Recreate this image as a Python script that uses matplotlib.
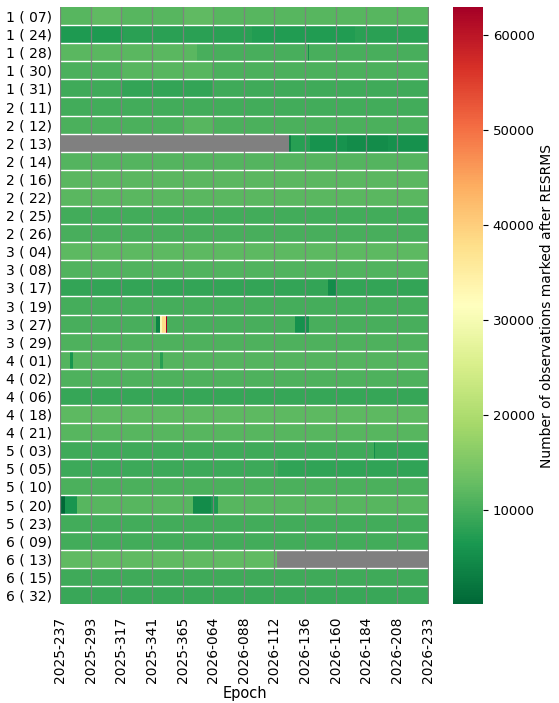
import numpy as np
import matplotlib
matplotlib.use("Agg")
import matplotlib.pyplot as plt

# satellites (rows) and epochs (columns)
row_labels = ["1 ( 07)", "1 ( 24)", "1 ( 28)", "1 ( 30)", "1 ( 31)", "2 ( 11)", "2 ( 12)",
              "2 ( 13)", "2 ( 14)", "2 ( 16)", "2 ( 22)", "2 ( 25)", "2 ( 26)", "3 ( 04)",
              "3 ( 08)", "3 ( 17)", "3 ( 19)", "3 ( 27)", "3 ( 29)", "4 ( 01)", "4 ( 02)",
              "4 ( 06)", "4 ( 18)", "4 ( 21)", "5 ( 03)", "5 ( 05)", "5 ( 10)", "5 ( 20)",
              "5 ( 23)", "6 ( 09)", "6 ( 13)", "6 ( 15)", "6 ( 32)"]

epoch_ticks = ["2025-237", "2025-293", "2025-317", "2025-341", "2025-365", "2026-064",
               "2026-088", "2026-112", "2026-136", "2026-160", "2026-184", "2026-208",
               "2026-233"]
n_epochs = 289
tick_step = 24

# typical count per satellite
row_base = [11500, 7800, 11000, 10500, 9500, 9800, 10500,
            6500, 11200, 11800, 11800, 9800, 10300, 12000,
            11000, 8600, 10000, 10200, 10800, 11200, 10800,
            8800, 12000, 11500, 9500, 9200, 10500, 11500,
            9800, 9800, 12200, 9500, 9000]

# (row, first epoch index, last epoch index, value) ; nan = no data
segments = [
    ("1 ( 07)", 24, 47, 12300),
    ("1 ( 07)", 96, 119, 12200),
    ("1 ( 24)", 0, 48, 6800),
    ("1 ( 24)", 150, 230, 7000),
    ("1 ( 28)", 0, 106, 11800),
    ("1 ( 28)", 107, 288, 10300),
    ("1 ( 28)", 194, 194, 5000),
    ("1 ( 30)", 48, 118, 11600),
    ("1 ( 31)", 48, 118, 8600),
    ("2 ( 12)", 96, 119, 11500),
    ("2 ( 13)", 0, 178, np.nan),
    ("2 ( 13)", 179, 180, 3500),
    ("2 ( 13)", 181, 195, 7500),
    ("2 ( 13)", 196, 224, 5800),
    ("2 ( 13)", 225, 256, 4800),
    ("2 ( 13)", 257, 288, 5600),
    ("3 ( 17)", 210, 216, 5000),
    ("3 ( 19)", 288, 288, np.nan),
    ("3 ( 27)", 75, 77, 4000),
    ("3 ( 27)", 78, 79, 30500),
    ("3 ( 27)", 80, 82, 38000),
    ("3 ( 27)", 83, 83, 62900),
    ("3 ( 27)", 184, 194, 5500),
    ("4 ( 01)", 8, 9, 6000),
    ("4 ( 01)", 78, 80, 7500),
    ("5 ( 03)", 246, 246, 5000),
    ("5 ( 03)", 247, 288, 8600),
    ("5 ( 05)", 171, 288, 8300),
    ("5 ( 20)", 0, 3, 100),
    ("5 ( 20)", 4, 12, 6000),
    ("5 ( 20)", 104, 117, 4800),
    ("5 ( 20)", 118, 123, 6500),
    ("6 ( 13)", 170, 288, np.nan),
]

data = np.array([[b] * n_epochs for b in row_base], dtype=float)
for name, c0, c1, val in segments:
    data[row_labels.index(name), c0:c1 + 1] = val

fig = plt.figure(figsize=(5.59, 7.03), dpi=100)
ax = fig.add_axes([0.1073, 0.1408, 0.6601, 0.8492])
cax = fig.add_axes([0.8104, 0.1408, 0.0537, 0.8492])

ax.set_facecolor("#808080")
mesh = ax.pcolormesh(np.arange(n_epochs + 1), np.arange(len(row_labels) + 1),
                     np.ma.masked_invalid(data), cmap="RdYlGn_r",
                     vmin=np.nanmin(data), vmax=np.nanmax(data))
ax.set_xlim(0, n_epochs)
ax.set_ylim(len(row_labels), 0)

ax.set_xticks(np.arange(0, n_epochs, tick_step))
ax.set_xticklabels(epoch_ticks, rotation=90, fontsize=10)
ax.set_yticks(np.arange(len(row_labels)) + 0.5)
ax.set_yticklabels(row_labels, fontsize=10)
ax.tick_params(axis="x", length=0, pad=9)
ax.tick_params(axis="y", length=0, pad=6)
ax.grid(axis="x", color="gray", linewidth=0.9, alpha=0.9)
ax.set_axisbelow(False)
ax.hlines(np.arange(1, len(row_labels)), 0, n_epochs, colors="white", linewidth=1.0)
for s in ax.spines.values():
    s.set_visible(False)
ax.set_xlabel("Epoch", fontsize=10.5, labelpad=2)

cb = fig.colorbar(mesh, cax=cax)
cb.outline.set_visible(False)
cb.ax.tick_params(labelsize=9.5)
cb.set_label("Number of observations marked after RESRMS", fontsize=10)

fig.savefig("out.png", dpi=100)
